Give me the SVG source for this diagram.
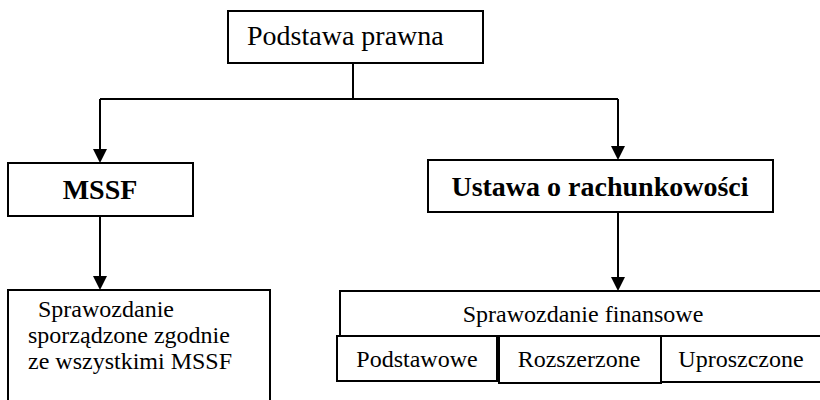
<svg xmlns="http://www.w3.org/2000/svg" width="820" height="400" viewBox="0 0 820 400">
<defs>
<style>
.box{fill:#fff;stroke:#000;stroke-width:2}
text{font-family:'Liberation Serif','Times New Roman','DejaVu Serif',serif;fill:#000}
.n{font-size:24px}
.b{font-size:28px;font-weight:bold}
.m{text-anchor:middle}
.c{fill:none;stroke:#000;stroke-width:2}
</style>
</defs>
<rect width="820" height="400" fill="#fff"/>
<g id="connectors">
<path class="c" d="M353,63 V99"/>
<path class="c" d="M100,99 H618"/>
<path class="c" d="M100,99 V149"/>
<path d="M93,149 H107 L100,163 Z"/>
<path class="c" d="M618,99 V146"/>
<path d="M611,146 H625 L618,160 Z"/>
<path class="c" d="M100,216 V276"/>
<path d="M93,276 H107 L100,290 Z"/>
<path class="c" d="M618,212 V277"/>
<path d="M611,277 H625 L618,291 Z"/>
</g>
<g id="podstawa">
<rect class="box" x="228" y="11" width="255" height="52"/>
<text x="247" y="45" font-family="Liberation Serif, serif" font-size="28">Podstawa prawna</text>
</g>
<g id="mssf">
<rect class="box" x="8" y="163" width="185" height="53"/>
<text class="b m" x="100" y="199" font-family="Liberation Serif, serif">MSSF</text>
</g>
<g id="ustawa">
<rect class="box" x="428" y="160" width="345" height="52"/>
<text class="b m" x="600" y="196" font-family="Liberation Serif, serif">Ustawa o rachunkowości</text>
</g>
<g id="sprawozdanie-mssf">
<rect class="box" x="8" y="290" width="262" height="120"/>
<text class="n" x="38" y="317" font-family="Liberation Serif, serif">Sprawozdanie</text>
<text class="n" x="28" y="343" font-family="Liberation Serif, serif">sporządzone zgodnie</text>
<text class="n" x="28" y="369" font-family="Liberation Serif, serif">ze wszystkimi MSSF</text>
</g>
<g id="sprawozdanie-finansowe">
<rect class="box" x="340" y="291" width="482" height="45"/>
<text class="n m" x="583" y="322" font-family="Liberation Serif, serif">Sprawozdanie finansowe</text>
</g>
<g id="podstawowe">
<rect class="box" x="337" y="336" width="160" height="45"/>
<text class="n m" x="417" y="367" font-family="Liberation Serif, serif">Podstawowe</text>
</g>
<g id="rozszerzone">
<rect class="box" x="499" y="336" width="162" height="47"/>
<text class="n m" x="579" y="367" font-family="Liberation Serif, serif">Rozszerzone</text>
</g>
<g id="uproszczone">
<rect class="box" x="661" y="336" width="161" height="46"/>
<text class="n m" x="741" y="367" font-family="Liberation Serif, serif">Uproszczone</text>
</g>
</svg>
